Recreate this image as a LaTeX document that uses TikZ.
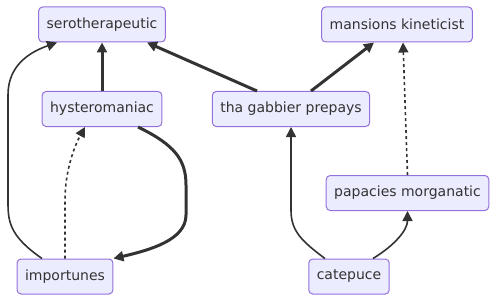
\documentclass[tikz,border=0pt]{standalone}
\usepackage{fontspec}
\setmainfont{DejaVu Sans}
\usetikzlibrary{arrows.meta}
\definecolor{boxfill}{HTML}{ECECFF}
\definecolor{boxline}{HTML}{9370DB}
\definecolor{ink}{HTML}{333333}
\tikzset{entity/.style={draw=boxline, fill=boxfill, rounded corners=4pt, line width=1pt,
    minimum height=35pt, inner xsep=8pt, text=ink, font=\fontsize{14}{16}\selectfont}}
\tikzset{link/.style={draw=ink, line width=1.6pt, -{Triangle[length=10pt,width=10pt]}}}
\tikzset{heavy/.style={link, line width=3pt}}
\tikzset{weak/.style={link, dash pattern=on 3pt off 3pt}}

\begin{document}
\begin{tikzpicture}[x=1pt, y=-1pt]
  \useasboundingbox (0, 0) rectangle (497, 302);

  \node[entity] at (102, 24.5) (sero) {serotherapeutic};
  \node[entity] at (397, 24.5) (mans) {mansions kineticist};
  \node[entity] at (102, 109) (hyst) {hysteromaniac};
  \node[entity] at (291, 109) (gabb) {tha gabbier prepays};
  \node[entity] at (407.5, 193) (papa) {papacies morganatic};
  \node[entity] at (65, 276.5) (impo) {importunes};
  \node[entity] at (349, 276.5) (cate) {catepuce};

  % heavy links
  \draw[heavy] (hyst.north) -- (sero.south);
  \draw[heavy] ([xshift=-34pt]gabb.north) -- ([xshift=45pt]sero.south);
  \draw[heavy] ([xshift=20pt]gabb.north) -- ([xshift=-23pt]mans.south);
  \draw[heavy] ([xshift=36pt]hyst.south) .. controls (175, 145) and (186, 160) .. (186, 185)
    -- (186, 215) .. controls (186, 240) and (150, 250) .. (impo.north east);

  % plain links
  \draw[link] ([xshift=-23pt]impo.north) .. controls (8, 235) and (8, 220) .. (8, 200)
    -- (8, 95) .. controls (8, 65) and (30, 52) .. ([xshift=-45pt]sero.south);
  \draw[link] ([xshift=-24pt]cate.north) .. controls (300, 240) and (291, 230) .. (291, 210)
    -- (gabb.south);
  \draw[link] ([xshift=24pt]cate.north) .. controls (395, 245) and (407.5, 230) .. (papa.south);

  % dotted links
  \draw[weak] (impo.north) -- (65, 200) .. controls (65, 170) and (75, 145) .. ([xshift=-17pt]hyst.south);
  \draw[weak] (papa.north) -- ([xshift=6pt]mans.south);
\end{tikzpicture}
\end{document}
